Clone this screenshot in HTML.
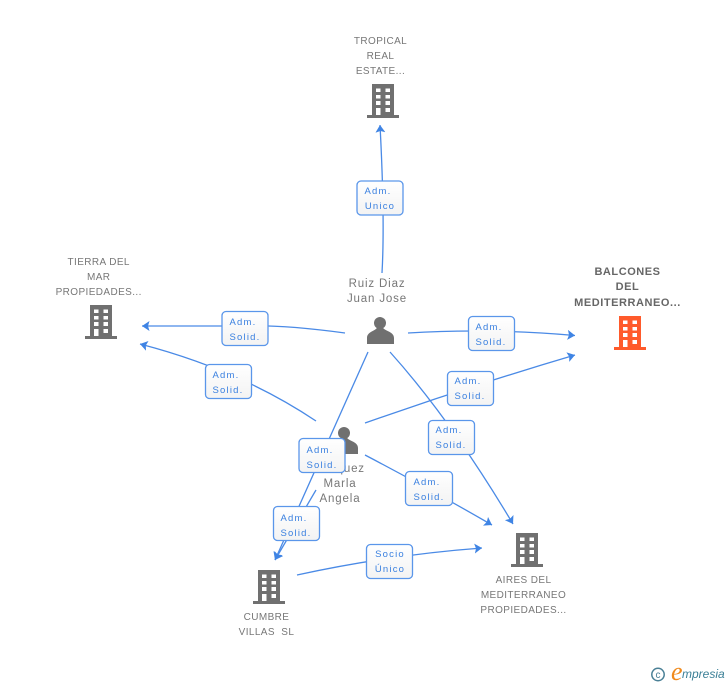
<!DOCTYPE html>
<html><head><meta charset="utf-8"><style>
html,body{margin:0;padding:0;background:#fff}
svg{display:block}
text{font-family:"Liberation Sans",sans-serif}
.l{font-size:10px;fill:#777;text-anchor:middle;letter-spacing:.4px}
.n{font-size:11.5px;fill:#777;text-anchor:middle;letter-spacing:.85px}
.b{font-size:11px;fill:#666;text-anchor:middle;font-weight:bold;letter-spacing:.55px}
.t{font-size:9.5px;fill:#3a80e0;text-anchor:middle;letter-spacing:1.2px}
.c{fill:none;stroke:#4a8ae6;stroke-width:1.3}
.x{fill:url(#g);stroke:#5a96ea;stroke-width:1.3}
</style></head><body>
<svg width="728" height="685" viewBox="0 0 728 685" xmlns="http://www.w3.org/2000/svg">
<defs>
<linearGradient id="g" x1="0" y1="0" x2="0" y2="1"><stop offset="0" stop-color="#fff"/><stop offset="1" stop-color="#f3f3f3"/></linearGradient>
<marker id="a" markerUnits="userSpaceOnUse" markerWidth="12" markerHeight="12" refX="7.500" refY="5" orient="auto"><path d="M0,0L7.500,5L0,10L1.500,5z" fill="#3f84e4"/></marker>
<g id="bd">
<path fill-rule="evenodd" d="M5,0H27V31H32V34H0V31H5ZM9,4.500V8H13.500V4.500ZM18.500,4.500V8H23V4.500ZM9,11V14.500H13.500V11ZM18.500,11V14.500H23V11ZM9,17V21H13.500V17ZM18.500,17V21H23V17ZM9,24V31H13.500V24ZM18.500,24V28H23V24Z"/>
</g>
<g id="p"><circle cx="0" cy="0" r="6"/><path d="M-3,4C-3,8-13,8-13,15V21H14V15C14,8 3,8 3,4Z"/></g>
</defs>

<path class="c" marker-end="url(#a)" d="M382,273Q385,220 380,125"/>
<path class="c" marker-end="url(#a)" d="M345,333C300,327 270,325 245,326L142,326"/>
<path class="c" marker-end="url(#a)" d="M316,421Q240,370 140,344"/>
<path class="c" marker-end="url(#a)" d="M408,333Q490,328 575,335.500"/>
<path class="c" marker-end="url(#a)" d="M365,423Q470,386 575,355"/>
<path class="c" marker-end="url(#a)" d="M390,352Q451,420 513,524"/>
<path class="c" marker-end="url(#a)" d="M365,455Q428,488 492,525"/>
<path class="c" marker-end="url(#a)" d="M368,352L275,560"/>
<path class="c" marker-end="url(#a)" d="M316,490L275,560"/>
<path class="c" marker-end="url(#a)" d="M297,575Q389,555 482,548"/>

<use href="#bd" x="367" y="84" fill="#707070"/>
<use href="#bd" x="85" y="305" fill="#707070"/>
<use href="#bd" x="614" y="316" fill="#ff5a2b"/>
<use href="#bd" x="511" y="533" fill="#707070"/>
<use href="#bd" x="253" y="570" fill="#707070"/>
<use href="#p" x="380" y="323" fill="#707070"/>
<use href="#p" x="344" y="433" fill="#707070"/>

<text class="l"><tspan x="380.500" y="44">TROPICAL</tspan><tspan x="380.500" y="59">REAL</tspan><tspan x="380.500" y="74">ESTATE...</tspan></text>
<text class="l"><tspan x="98.700" y="265">TIERRA DEL</tspan><tspan x="98.700" y="280">MAR</tspan><tspan x="98.700" y="295">PROPIEDADES...</tspan></text>
<text class="b"><tspan x="627.500" y="275">BALCONES</tspan><tspan x="627.500" y="290">DEL</tspan><tspan x="627.500" y="306">MEDITERRANEO...</tspan></text>
<text class="l"><tspan x="523.500" y="583">AIRES DEL</tspan><tspan x="523.500" y="598">MEDITERRANEO</tspan><tspan x="523.500" y="613">PROPIEDADES...</tspan></text>
<text class="l"><tspan x="266.500" y="620">CUMBRE</tspan><tspan x="266.500" y="635">VILLAS&#160; SL</tspan></text>
<text class="n"><tspan x="377" y="287">Ruiz Diaz</tspan><tspan x="377" y="302">Juan Jose</tspan></text>
<text class="n"><tspan x="340" y="472">Vazquez</tspan><tspan x="340" y="487">Marla</tspan><tspan x="340" y="502">Angela</tspan></text>

<rect class="x" x="357" y="181" width="46" height="34" rx="4"/><text class="t"><tspan x="378" y="194">Adm.</tspan><tspan x="380" y="209">Unico</tspan></text>
<rect class="x" x="222" y="311.500" width="46" height="34" rx="4"/><text class="t"><tspan x="243" y="325">Adm.</tspan><tspan x="245" y="340">Solid.</tspan></text>
<rect class="x" x="205.500" y="364.500" width="46" height="34" rx="4"/><text class="t"><tspan x="226" y="378">Adm.</tspan><tspan x="228" y="393">Solid.</tspan></text>
<rect class="x" x="468.500" y="316.500" width="46" height="34" rx="4"/><text class="t"><tspan x="489" y="330">Adm.</tspan><tspan x="491" y="345">Solid.</tspan></text>
<rect class="x" x="447.500" y="371.500" width="46" height="34" rx="4"/><text class="t"><tspan x="468" y="384">Adm.</tspan><tspan x="470" y="399">Solid.</tspan></text>
<rect class="x" x="428.500" y="420.500" width="46" height="34" rx="4"/><text class="t"><tspan x="449" y="433">Adm.</tspan><tspan x="451" y="448">Solid.</tspan></text>
<rect class="x" x="405.500" y="471.500" width="47" height="34" rx="4"/><text class="t"><tspan x="427" y="485">Adm.</tspan><tspan x="429" y="500">Solid.</tspan></text>
<rect class="x" x="299" y="438.500" width="46" height="34" rx="4"/><text class="t"><tspan x="320" y="453">Adm.</tspan><tspan x="322" y="468">Solid.</tspan></text>
<rect class="x" x="273.500" y="506.500" width="46" height="34" rx="4"/><text class="t"><tspan x="294" y="521">Adm.</tspan><tspan x="296" y="536">Solid.</tspan></text>
<rect class="x" x="366.500" y="544.500" width="46" height="34" rx="4"/><text class="t"><tspan x="390" y="557">Socio</tspan><tspan x="390" y="572">Único</tspan></text>

<circle cx="658" cy="674.500" r="6.200" fill="none" stroke="#4a8096" stroke-width="1.500"/>
<text x="658" y="678" font-size="10" fill="#4a8096" text-anchor="middle">c</text>
<text x="671" y="680" style="font-family:'Liberation Serif',serif;font-style:italic;font-size:26px;fill:#f08a1d">e</text>
<text x="682" y="678" style="font-style:italic;font-size:12px;fill:#3a7f96">mpresia</text>
</svg>
</body></html>
